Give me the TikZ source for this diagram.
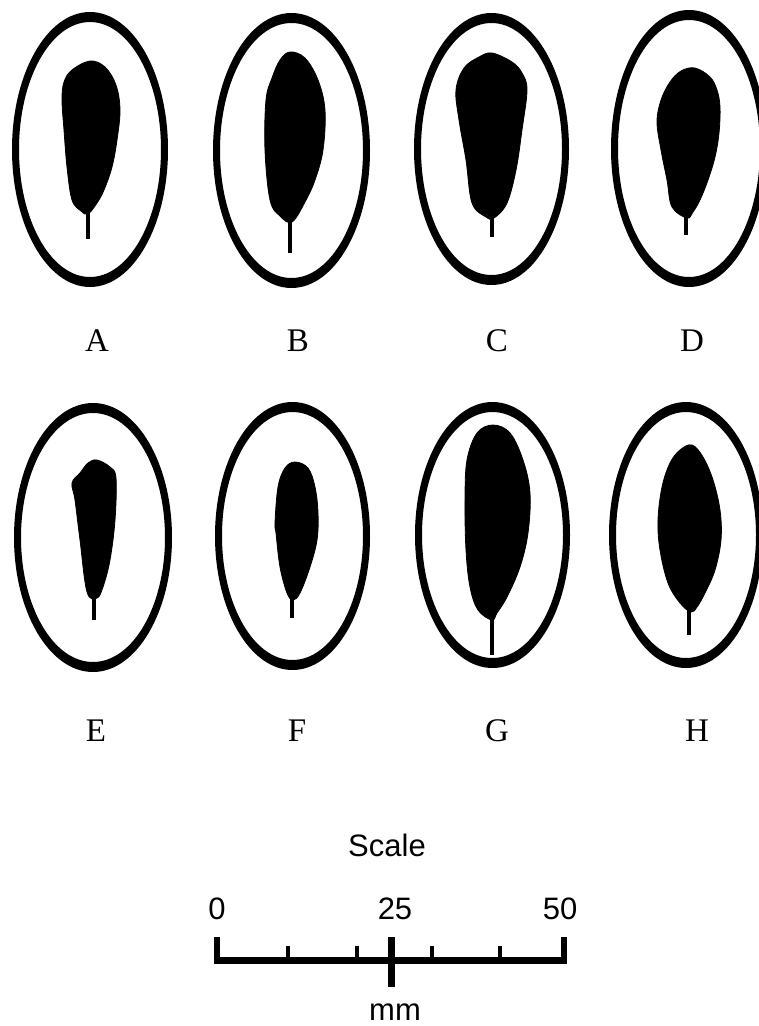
\documentclass[tikz,border=0pt]{standalone}
\usepackage{fontspec}
\setmainfont{Liberation Serif}
\setsansfont{Liberation Sans}
\begin{document}
\begin{tikzpicture}[x=1pt,y=-1pt,
  rim/.style={fill=black,even odd rule},
  leaf/.style={fill=black,draw=black,line width=0.8pt},
  stem/.style={line width=3.2pt},
  lab/.style={font=\fontsize{33}{33}\selectfont\rmfamily,anchor=center,inner sep=0pt},
  sc/.style={font=\fontsize{31}{31}\selectfont\sffamily,anchor=center,inner sep=0pt},
  bar/.style={line width=7pt},
  tick/.style={line width=3.5pt}]
\useasboundingbox (0,0) rectangle (759,1026);
\def\ring(#1,#2,#3,#4){\fill[rim] (#1,#2) ellipse [x radius=#3,y radius=#4] (#1,#2) ellipse [x radius=#3-7,y radius=#4-10];}
% ---- ellipses, row 1
\ring(90,149.5,78,137.5)
\ring(291.5,150.5,78.5,137.5)
\ring(491.5,149,77.5,136)
\ring(689,148.5,78,138.5)
% ---- ellipses, row 2
\ring(93,537.5,79,134.5)
\ring(292.5,536,77.5,134)
\ring(492.5,535,77.5,133)
\ring(686,535,77,133)
% ---- leaves, row 1
% A
\draw[leaf] plot[smooth cycle,tension=0.6] coordinates {(90,61) (105,67) (116,85) (120,110) (117,140) (112,167) (104,190) (97,203) (88,214) (81,211) (72,200) (67,167) (64,130) (62,100) (64,82) (72,70)};
\draw[stem] (88,210) -- (88,239);
% B
\draw[leaf] plot[smooth cycle,tension=0.6] coordinates {(290,52) (305,58) (318,80) (325,110) (323,150) (315,180) (305,202) (292,222) (280,216) (270,200) (265,150) (266,100) (272,78) (280,60)};
\draw[stem] (290,218) -- (290,253);
% C
\draw[leaf] plot[smooth cycle,tension=0.6] coordinates {(492,53) (512,62) (522,73) (527,90) (522,130) (516,170) (507,203) (494,218) (486,217) (472,203) (466,160) (459,120) (456,90) (464,68) (479,57)};
\draw[stem] (492,214) -- (492,237);
% D
\draw[leaf] plot[smooth cycle,tension=0.6] coordinates {(695,68) (710,77) (717,90) (720,107) (719,133) (715,157) (708,180) (700,200) (693,212) (687,218) (672,207) (667,180) (661,150) (657,122) (661,100) (670,82) (681,71)};
\draw[stem] (686,214) -- (686,235);
% ---- leaves, row 2
% E
\draw[leaf] plot[smooth cycle,tension=0.6] coordinates {(97,460) (110,467) (116,478) (115,520) (110,560) (103,587) (97,598) (87,592) (80,540) (75,500) (72,483) (80,473) (88,463)};
\draw[stem] (94,594) -- (94,620);
% F
\draw[leaf] plot[smooth cycle,tension=0.6] coordinates {(295,462) (308,468) (315,487) (318,513) (317,540) (310,567) (300,593) (293,600) (287,593) (280,567) (276,533) (275,523) (278,487) (285,468)};
\draw[stem] (292,596) -- (292,618);
% G
\draw[leaf] plot[smooth cycle,tension=0.6] coordinates {(493,425) (510,433) (523,460) (530,493) (528,533) (520,567) (507,597) (497,613) (492,620) (478,610) (470,587) (466,550) (465,500) (467,460) (477,433)};
\draw[stem] (492,615) -- (492,655);
% H
\draw[leaf] plot[smooth cycle,tension=0.6] coordinates {(692,445) (703,457) (713,480) (720,510) (721,540) (715,570) (705,593) (697,607) (691,612) (680,603) (668,583) (660,550) (658,520) (662,487) (670,463) (680,450)};
\draw[stem] (689,608) -- (689,635);
% ---- labels
\node[lab] (la) at (97,341) {A};
\node[lab] (lb) at (298,341) {B};
\node[lab] (lc) at (497,341) {C};
\node[lab] (ld) at (692,341) {D};
\node[lab] (le) at (96,731) {E};
\node[lab] (lf) at (297,731) {F};
\node[lab] (lg) at (497,731) {G};
\node[lab] (lh) at (697,731) {H};
% ---- scale
\node[sc] (scale) at (387,845) {Scale};
\node[sc] (n0) at (217,909) {0};
\node[sc] (n25) at (395,909) {25};
\node[sc] (n50) at (560,909) {50};
\node[sc,anchor=base] (mm) at (395,1020) {mm};
\draw[bar] (214,960) -- (567,960);
\draw[line width=6pt] (217,937) -- (217,963);
\draw[line width=6pt] (564,937) -- (564,963);
\draw[tick] (288,946) -- (288,958);
\draw[tick] (357,946) -- (357,958);
\draw[tick] (432,946) -- (432,958);
\draw[tick] (500,946) -- (500,958);
\draw[line width=7pt] (391,937) -- (391,987);
\end{tikzpicture}
\end{document}
